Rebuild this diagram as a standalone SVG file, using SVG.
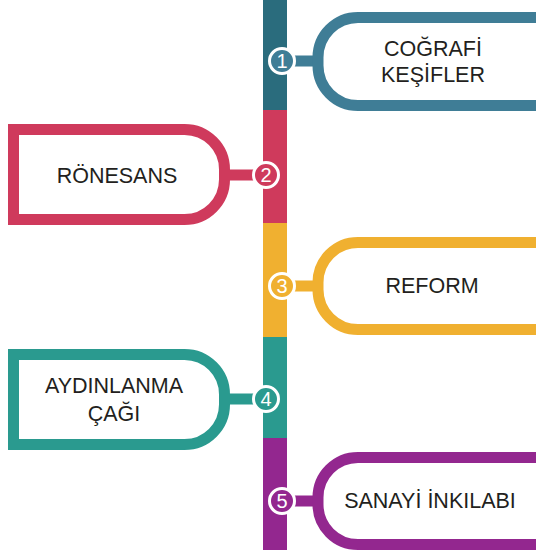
<svg xmlns="http://www.w3.org/2000/svg" width="536" height="555" viewBox="0 0 536 555">
<style>
.box{fill:#fff;stroke-width:11}
.con{stroke-width:11}
.num{stroke:#fff;stroke-width:3}
.lbl{font-family:"Liberation Sans",Arial,sans-serif;font-size:21.5px;fill:#231F20;text-anchor:middle}
.n{font-family:"Liberation Sans",Arial,sans-serif;font-size:20px;fill:#fff;text-anchor:middle}
</style>
<rect width="536" height="555" fill="#fff"/>
<g id="timeline">
<rect x="263" y="0" width="24" height="110" fill="#2A6C7D"/>
<rect x="263" y="110" width="24" height="113" fill="#CF3A5C"/>
<rect x="263" y="223" width="24" height="114" fill="#F0B030"/>
<rect x="263" y="337" width="24" height="101" fill="#2A9A8F"/>
<rect x="263" y="438" width="24" height="112" fill="#93278F"/>
</g>
<g id="connectors">
<line class="con" x1="282" y1="61" x2="320" y2="61" stroke="#3F7D96"/>
<line class="con" x1="222" y1="175" x2="266" y2="175" stroke="#CF3A5C"/>
<line class="con" x1="282" y1="286" x2="320" y2="286" stroke="#F0B030"/>
<line class="con" x1="222" y1="399" x2="266" y2="399" stroke="#2A9A8F"/>
<line class="con" x1="282" y1="501" x2="320" y2="501" stroke="#93278F"/>
</g>
<g id="node1">
<path class="box" stroke="#3F7D96" d="M545 17.5 H358 A40 40 0 0 0 318 57.5 V65.5 A40 40 0 0 0 358 105.5 H545"/>
<circle class="num" cx="282" cy="61" r="12.5" fill="#3F7D96"/>
<text class="n" x="282" y="68">1</text>
<text class="lbl" x="433" y="56">COĞRAFİ</text>
<text class="lbl" x="433" y="82">KEŞİFLER</text>
</g>
<g id="node2">
<path class="box" stroke="#CF3A5C" d="M13.5 129.5 H184.5 A40 40 0 0 1 224.5 169.5 V179.5 A40 40 0 0 1 184.5 219.5 H13.5 Z"/>
<circle class="num" cx="266" cy="175" r="12.5" fill="#CF3A5C"/>
<text class="n" x="266" y="182">2</text>
<text class="lbl" x="117" y="183">RÖNESANS</text>
</g>
<g id="node3">
<path class="box" stroke="#F0B030" d="M545 242.5 H358 A40 40 0 0 0 318 282.5 V289.5 A40 40 0 0 0 358 329.5 H545"/>
<circle class="num" cx="282" cy="286" r="12.5" fill="#F0B030"/>
<text class="n" x="282" y="293">3</text>
<text class="lbl" x="432" y="293">REFORM</text>
</g>
<g id="node4">
<path class="box" stroke="#2A9A8F" d="M13.5 354.5 H184.5 A40 40 0 0 1 224.5 394.5 V404.5 A40 40 0 0 1 184.5 444.5 H13.5 Z"/>
<circle class="num" cx="266" cy="399" r="12.5" fill="#2A9A8F"/>
<text class="n" x="266" y="406">4</text>
<text class="lbl" x="114" y="393">AYDINLANMA</text>
<text class="lbl" x="114" y="421">ÇAĞI</text>
</g>
<g id="node5">
<path class="box" stroke="#93278F" d="M545 457.5 H358 A40 40 0 0 0 318 497.5 V504.5 A40 40 0 0 0 358 544.5 H545"/>
<circle class="num" cx="282" cy="501" r="12.5" fill="#93278F"/>
<text class="n" x="282" y="508">5</text>
<text class="lbl" x="430" y="508">SANAYİ İNKILABI</text>
</g>
</svg>
